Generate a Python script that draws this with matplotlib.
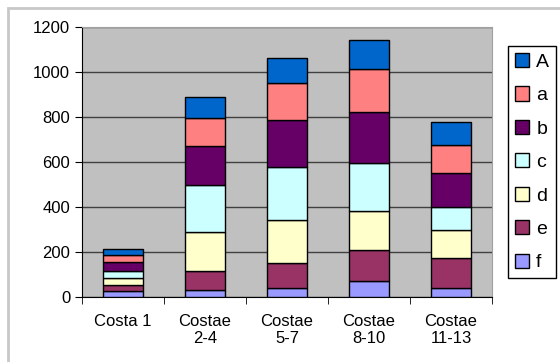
import matplotlib.pyplot as plt
from matplotlib.patches import Rectangle
import numpy as np

categories = ['Costa 1', 'Costae\n2-4', 'Costae\n5-7', 'Costae\n8-10', 'Costae\n11-13']
series_names = ['f', 'e', 'd', 'c', 'b', 'a', 'A']
f_vals = [25, 31, 39, 71, 39]
e_vals = [30, 86, 113, 138, 133]
d_vals = [30, 170, 190, 175, 126]
c_vals = [30, 211, 237, 210, 103]
b_vals = [40, 174, 208, 229, 149]
a_vals = [30, 125, 163, 190, 127]
A_vals = [30, 92, 111, 129, 99]
colors = ['#9999ff', '#993366', '#ffffcc', '#ccffff', '#660066', '#ff8080', '#0066cc']

plt.rcParams['font.family'] = ['Liberation Sans', 'DejaVu Sans']

fig = plt.figure(figsize=(5.6, 3.62), dpi=100)
ax = fig.add_axes([82 / 560, 1 - 297 / 362, 410 / 560, 270 / 362])
ax.set_facecolor('#c0c0c0')

x = np.arange(len(categories))
bottom = np.zeros(len(categories))
handles = []
for name, vals, col in zip(series_names, [f_vals, e_vals, d_vals, c_vals, b_vals, a_vals, A_vals], colors):
    bars = ax.bar(x, vals, 0.48, bottom=bottom, color=col, edgecolor='black', linewidth=1, label=name, zorder=3)
    handles.append(bars)
    bottom += np.array(vals)

ax.set_xlim(-0.5, 4.5)
ax.set_ylim(0, 1200)
ax.set_yticks(range(0, 1201, 200))
ax.yaxis.grid(True, color='#404040', linewidth=1, zorder=1)
ax.set_xticks(x)
ax.set_xticklabels(categories, fontsize=12)
ax.tick_params(axis='x', length=0, pad=12)
ax.set_xticks(np.arange(-0.5, 5, 1), minor=True)
ax.tick_params(axis='x', which='minor', length=5, direction='out')
ax.tick_params(axis='y', labelsize=12, length=5, direction='out')
for side in ['top', 'right']:
    ax.spines[side].set_color('#a0a0a0')
for side in ['left', 'bottom']:
    ax.spines[side].set_color('black')

fig.legend(handles[::-1], series_names[::-1], loc='upper left',
           bbox_to_anchor=(508 / 560, 1 - 46 / 362), fontsize=14,
           frameon=True, fancybox=False, edgecolor='black', framealpha=1,
           handlelength=0.75, handleheight=0.75, handletextpad=0.35,
           labelspacing=0.8, borderpad=0.35, borderaxespad=0)

fig.patches.append(Rectangle((8 / 560, -0.05), 1.1, 1.05 - 8 / 362, transform=fig.transFigure,
                             fill=False, edgecolor='#c8c8c8', linewidth=2))

fig.savefig('out.png', dpi=100)
